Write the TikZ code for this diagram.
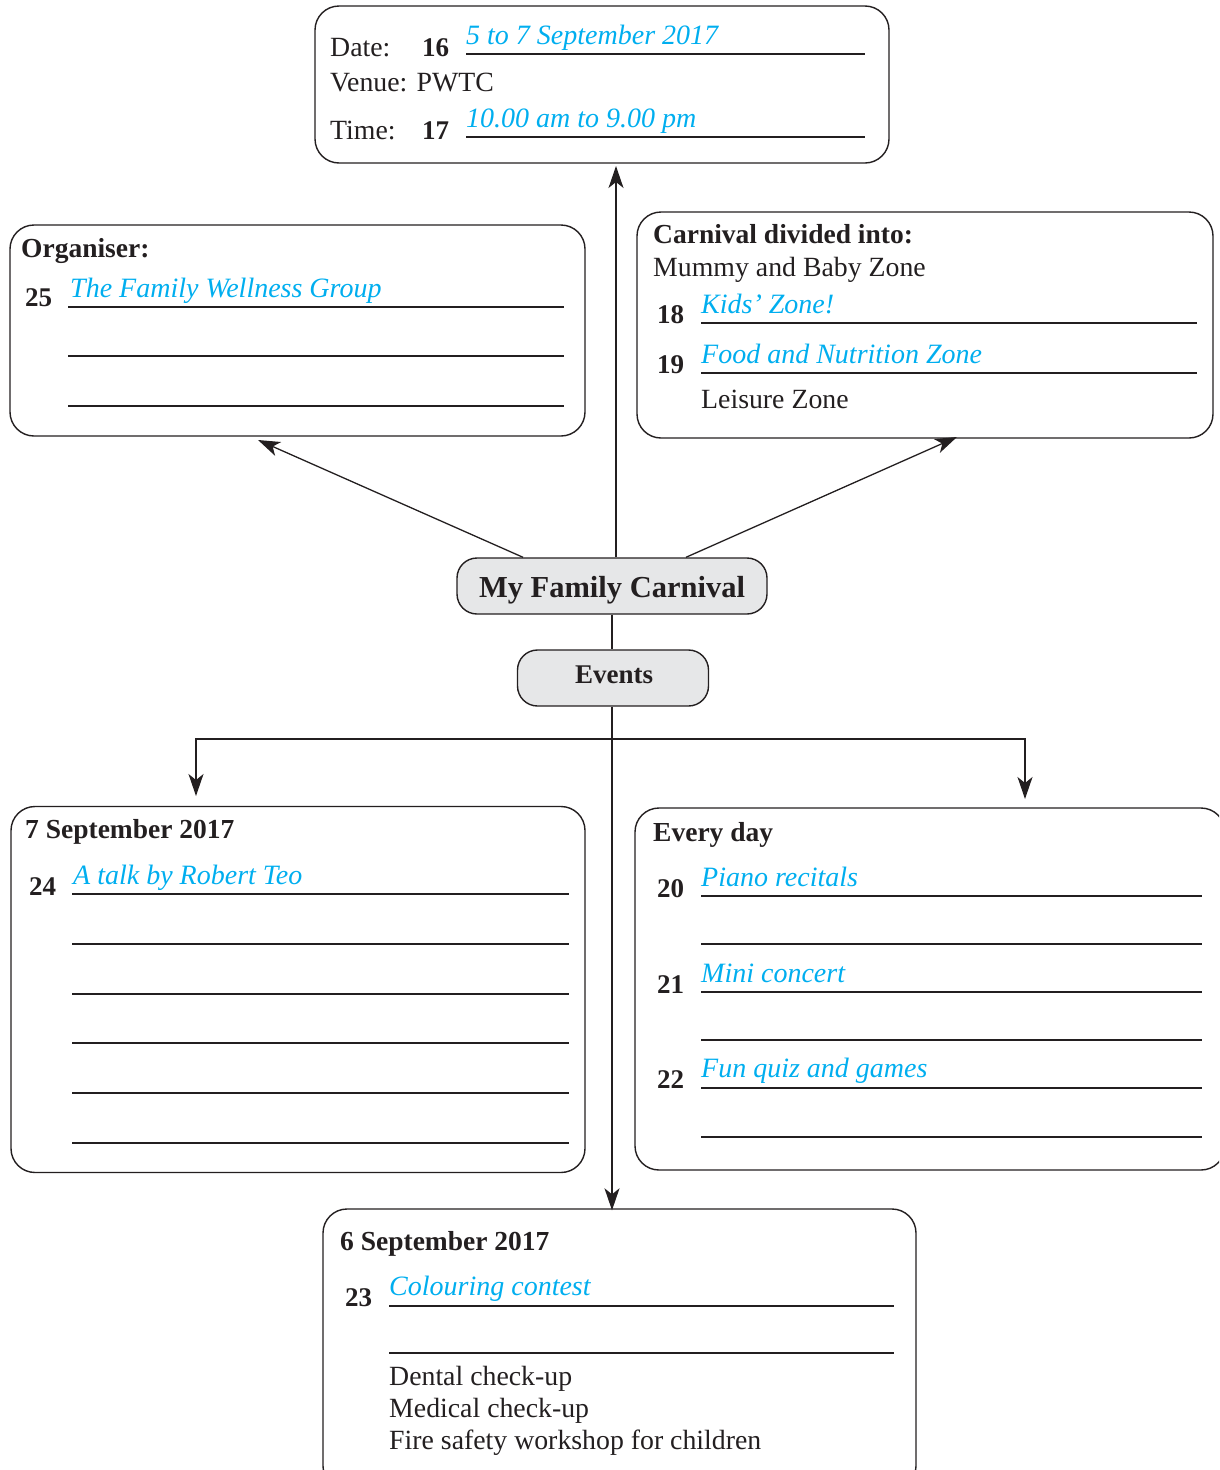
\documentclass[tikz,border=0pt]{standalone}
\usepackage{fontspec}
\setmainfont{Liberation Serif}
\usetikzlibrary{arrows.meta}
\definecolor{ansblue}{HTML}{00AEEF}
\definecolor{ink}{HTML}{231F20}
\definecolor{pillgray}{HTML}{E6E7E8}
\begin{document}
\begin{tikzpicture}[x=1pt,y=-1pt,
  box/.style={draw=ink, line width=1.4pt, rounded corners=24pt, inner sep=0pt},
  pillbox/.style={draw=ink, line width=1.4pt, rounded corners=20pt, fill=pillgray, inner sep=0pt, text=ink},
  txt/.style={anchor=base west, inner sep=0pt, text=ink, font=\fontsize{27.8}{32}\selectfont},
  num/.style={anchor=base west, inner sep=0pt, text=ink, font=\fontsize{27}{32}\selectfont\bfseries},
  hd/.style={anchor=base west, inner sep=0pt, text=ink, font=\fontsize{27.5}{32}\selectfont\bfseries},
  answer/.style={anchor=base west, inner sep=0pt, text=ansblue, font=\fontsize{28}{32}\selectfont\itshape},
  uline/.style={draw=ink, line width=1.3pt},
  conn/.style={draw=ink, line width=1.3pt},
  arr/.style={-{Stealth[length=22pt,width=15pt,inset=6pt]}}
]
\useasboundingbox (0,0) rectangle (1219,1470);
\clip (0,0) rectangle (1219,1470);

% ---------- boxes ----------
\node[box, minimum width=574pt, minimum height=157pt] (datebox) at (602,84.5) {};
\node[box, minimum width=575pt, minimum height=211pt] (orgbox) at (297.5,330.5) {};
\node[box, minimum width=576pt, minimum height=226pt] (carnbox) at (925,325) {};
\node[pillbox, minimum width=310pt, minimum height=56pt] (mfc) at (612,586) {};
\node[pillbox, minimum width=191pt, minimum height=56pt] (events) at (613,678) {};
\node[anchor=base, inner sep=0pt, text=ink, font=\fontsize{30.5}{34}\selectfont\bfseries] (mfclabel) at (612,597) {My Family Carnival};
\node[anchor=base, inner sep=0pt, text=ink, font=\fontsize{27}{32}\selectfont\bfseries] (eventslabel) at (614,683) {Events};
\node[box, minimum width=574pt, minimum height=366pt] (sevenbox) at (298,989.5) {};
\node[box, minimum width=590pt, minimum height=362pt] (everybox) at (930,989) {};
\node[box, minimum width=593pt, minimum height=281pt] (sixbox) at (619.5,1349.5) {};

% ---------- date box content ----------
\node[txt] (dlab) at (330,56) {Date:};
\node[num] (n16) at (422,56) {16};
\node[answer] (a16) at (466,44) {5 to 7 September 2017};
\draw[uline] (466,54) -- (865,54);
\node[txt] (venue) at (330,91) {Venue: PWTC};
\node[txt] (tlab) at (330,139) {Time:};
\node[num] (n17) at (422,139) {17};
\node[answer] (a17) at (466,127) {10.00 am to 9.00 pm};
\draw[uline] (466,137) -- (865,137);

% ---------- organiser box ----------
\node[hd] (orghd) at (21,257) {Organiser:};
\node[num] (n25) at (25,306) {25};
\node[answer] (a25) at (70,297) {The Family Wellness Group};
\draw[uline] (68,307) -- (564,307);
\draw[uline] (68,356) -- (564,356);
\draw[uline] (68,406) -- (564,406);

% ---------- carnival box ----------
\node[hd] (carnhd) at (653,243) {Carnival divided into:};
\node[txt] (mummy) at (653,276) {Mummy and Baby Zone};
\node[num] (n18) at (657,323) {18};
\node[answer] (a18) at (701,313) {Kids’ Zone!};
\draw[uline] (701,323) -- (1197,323);
\node[num] (n19) at (657,373) {19};
\node[answer] (a19) at (701,363) {Food and Nutrition Zone};
\draw[uline] (701,373) -- (1197,373);
\node[txt] (leisure) at (701,408) {Leisure Zone};

% ---------- 7 September box ----------
\node[hd] (sevenhd) at (25,838) {7 September 2017};
\node[num] (n24) at (29,895) {24};
\node[answer] (a24) at (73,884) {A talk by Robert Teo};
\foreach \yy in {894,944,994,1043,1093,1143} \draw[uline] (72,\yy) -- (569,\yy);

% ---------- every day box ----------
\node[hd] (everyhd) at (653,841) {Every day};
\node[num] (n20) at (657,897) {20};
\node[answer] (a20) at (701,886) {Piano recitals};
\node[num] (n21) at (657,993) {21};
\node[answer] (a21) at (701,982) {Mini concert};
\node[num] (n22) at (657,1088) {22};
\node[answer] (a22) at (701,1077) {Fun quiz and games};
\foreach \yy in {896,944,992,1040,1088,1137} \draw[uline] (701,\yy) -- (1202,\yy);

% ---------- 6 September box ----------
\node[hd] (sixhd) at (340,1250) {6 September 2017};
\node[num] (n23) at (345,1306) {23};
\node[answer] (a23) at (389,1295) {Colouring contest};
\draw[uline] (389,1306) -- (894,1306);
\draw[uline] (389,1353) -- (894,1353);
\node[txt] (dental) at (389,1385) {Dental check-up};
\node[txt] (medical) at (389,1417) {Medical check-up};
\node[txt] (fire) at (389,1449) {Fire safety workshop for children};

% ---------- connectors ----------
\coordinate (topTip) at (616,166);
\coordinate (orgTip) at (258,440);
\coordinate (carnTip) at (957,437);
\coordinate (junction) at (612,739);
\coordinate (sevenTip) at (196,796);
\coordinate (everyTip) at (1025,799);

\draw[conn,arr] ([xshift=4pt]mfc.north) -- (topTip);
\draw[conn,arr] ([xshift=-89pt]mfc.north) -- (orgTip);
\draw[conn,arr] ([xshift=74pt]mfc.north) -- (carnTip);
\draw[conn] (mfc.south) -- (mfc.south |- events.north);
\draw[conn,arr] ([xshift=-1pt]events.south) -- ([xshift=-1pt,yshift=-2pt]events.south |- sixbox.north);
\draw[conn,arr] (junction) -| (sevenTip);
\draw[conn,arr] (junction) -| (everyTip);
\end{tikzpicture}
\end{document}
